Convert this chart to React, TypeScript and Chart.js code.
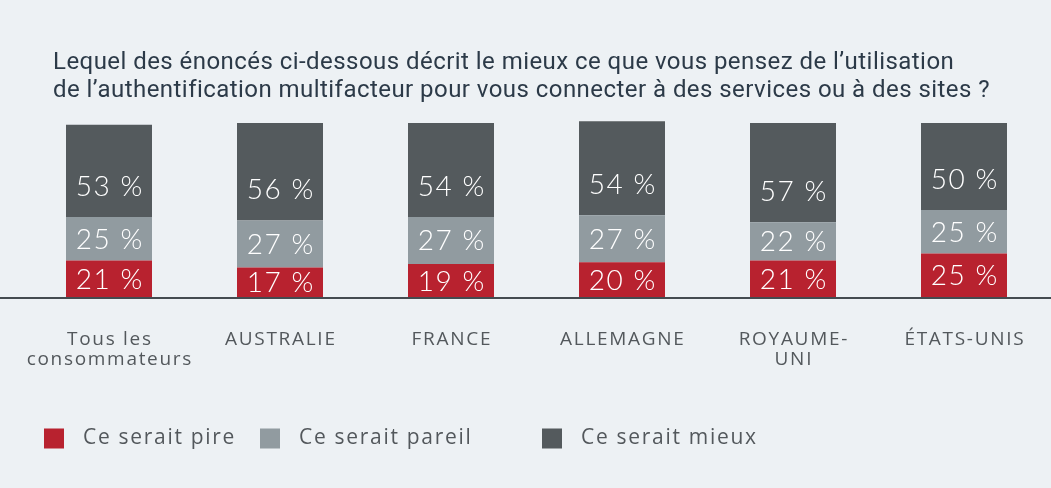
import { useEffect, useRef } from "react";
import { Chart, registerables } from "chart.js";

Chart.register(...registerables);

const titleLines = [
  "Lequel des énoncés ci-dessous décrit le mieux ce que vous pensez de l’utilisation",
  "de l’authentification multifacteur pour vous connecter à des services ou à des sites ?",
];
const categories = [
  ["Tous les", "consommateurs"],
  ["AUSTRALIE"],
  ["FRANCE"],
  ["ALLEMAGNE"],
  ["ROYAUME-", "UNI"],
  ["ÉTATS-UNIS"],
];
const pire = [21, 17, 19, 20, 21, 25];
const pareil = [25, 27, 27, 27, 22, 25];
const mieux = [53, 56, 54, 54, 57, 50];
const seriesNames = ["Ce serait pire", "Ce serait pareil", "Ce serait mieux"];
const seriesColors = ["#b8222f", "#919ba0", "#545a5d"];

const BG = "#edf1f4";
const TEXT = "#53585c";

const customPlugin = {
  id: "customDraw",
  beforeDraw(chart: any) {
    const ctx = chart.ctx;
    ctx.save();
    ctx.fillStyle = BG;
    ctx.fillRect(0, 0, chart.width, chart.height);
    ctx.restore();
  },
  afterDatasetsDraw(chart: any) {
    const ctx = chart.ctx;
    ctx.save();
    // baseline axis line across full width
    ctx.fillStyle = "#444b50";
    ctx.fillRect(0, chart.chartArea.bottom, chart.width, 2);
    // value labels
    ctx.fillStyle = "#ffffff";
    ctx.font = "300 28px Lato";
    ctx.textAlign = "center";
    ctx.textBaseline = "middle";
    const ls = 1.5;
    (ctx as any).letterSpacing = ls + "px";
    const n = chart.data.datasets.length;
    chart.data.datasets.forEach((ds: any, di: number) => {
      const meta = chart.getDatasetMeta(di);
      meta.data.forEach((el: any, i: number) => {
        const { x, y, base } = el.getProps(["x", "y", "base"], true);
        const cy = di === n - 1 ? base - 31 : (y + base) / 2;
        ctx.fillText(ds.data[i] + " %", x + ls / 2, cy + 1);
      });
    });
    ctx.restore();
  },
  afterDraw(chart: any) {
    const ctx = chart.ctx;
    ctx.save();
    // title
    ctx.fillStyle = "#2c3a48";
    ctx.font = "400 24px Roboto";
    (ctx as any).letterSpacing = "0.45px";
    ctx.textAlign = "left";
    ctx.textBaseline = "alphabetic";
    titleLines.forEach((line, i) => ctx.fillText(line, 53, 68.5 + i * 28.4));

    // category labels
    const xs = chart.scales.x;
    const tls = 1.7;
    (ctx as any).letterSpacing = tls + "px";
    ctx.font = "400 19px 'Open Sans'";
    ctx.fillStyle = TEXT;
    ctx.textAlign = "center";
    categories.forEach((lines, i) => {
      const x = xs.getPixelForTick(i);
      lines.forEach((t, j) => ctx.fillText(t, x + tls / 2, 345 + j * 20));
    });

    // legend
    const boxX = [44, 260, 542];
    const textX = [83, 299, 581];
    ctx.font = "400 21px 'Open Sans'";
    (ctx as any).letterSpacing = "1.7px";
    ctx.textAlign = "left";
    ctx.textBaseline = "middle";
    seriesNames.forEach((name, i) => {
      ctx.fillStyle = seriesColors[i];
      ctx.fillRect(boxX[i], 428.5, 20, 20);
      ctx.fillStyle = TEXT;
      ctx.fillText(name, textX[i], 438.5);
    });
    ctx.restore();
  },
};

export default function App() {
  const ref = useRef<HTMLCanvasElement>(null);
  useEffect(() => {
    document.body.style.margin = "0";
    document.body.style.background = BG;
    const chart = new Chart(ref.current!, {
      type: "bar",
      data: {
        labels: categories.map((c) => c.join(" ")),
        datasets: [
          { label: seriesNames[0], data: pire, backgroundColor: seriesColors[0] },
          { label: seriesNames[1], data: pareil, backgroundColor: seriesColors[1] },
          { label: seriesNames[2], data: mieux, backgroundColor: seriesColors[2] },
        ].map((d) => ({
          ...d,
          barPercentage: 86 / 171,
          categoryPercentage: 1,
          borderWidth: 0,
          clip: false as any,
        })),
      },
      options: {
        animation: false,
        responsive: true,
        maintainAspectRatio: false,
        layout: { padding: { top: 123, left: 23.5, right: 1.5, bottom: 0 } },
        plugins: {
          legend: { display: false },
          title: { display: false },
          tooltip: { enabled: false },
        },
        scales: {
          x: {
            stacked: true,
            grid: { display: false, drawTicks: false },
            border: { display: false },
            ticks: { display: false, autoSkip: false },
            afterFit: (scale: any) => {
              scale.height = 191;
            },
          },
          y: {
            stacked: true,
            display: false,
            min: 0,
            max: 100,
          },
        },
      },
      plugins: [customPlugin],
    });
    return () => chart.destroy();
  }, []);
  return (
    <div style={{ width: 1051, height: 488, position: "relative", background: BG }}>
      <canvas ref={ref} />
    </div>
  );
}
